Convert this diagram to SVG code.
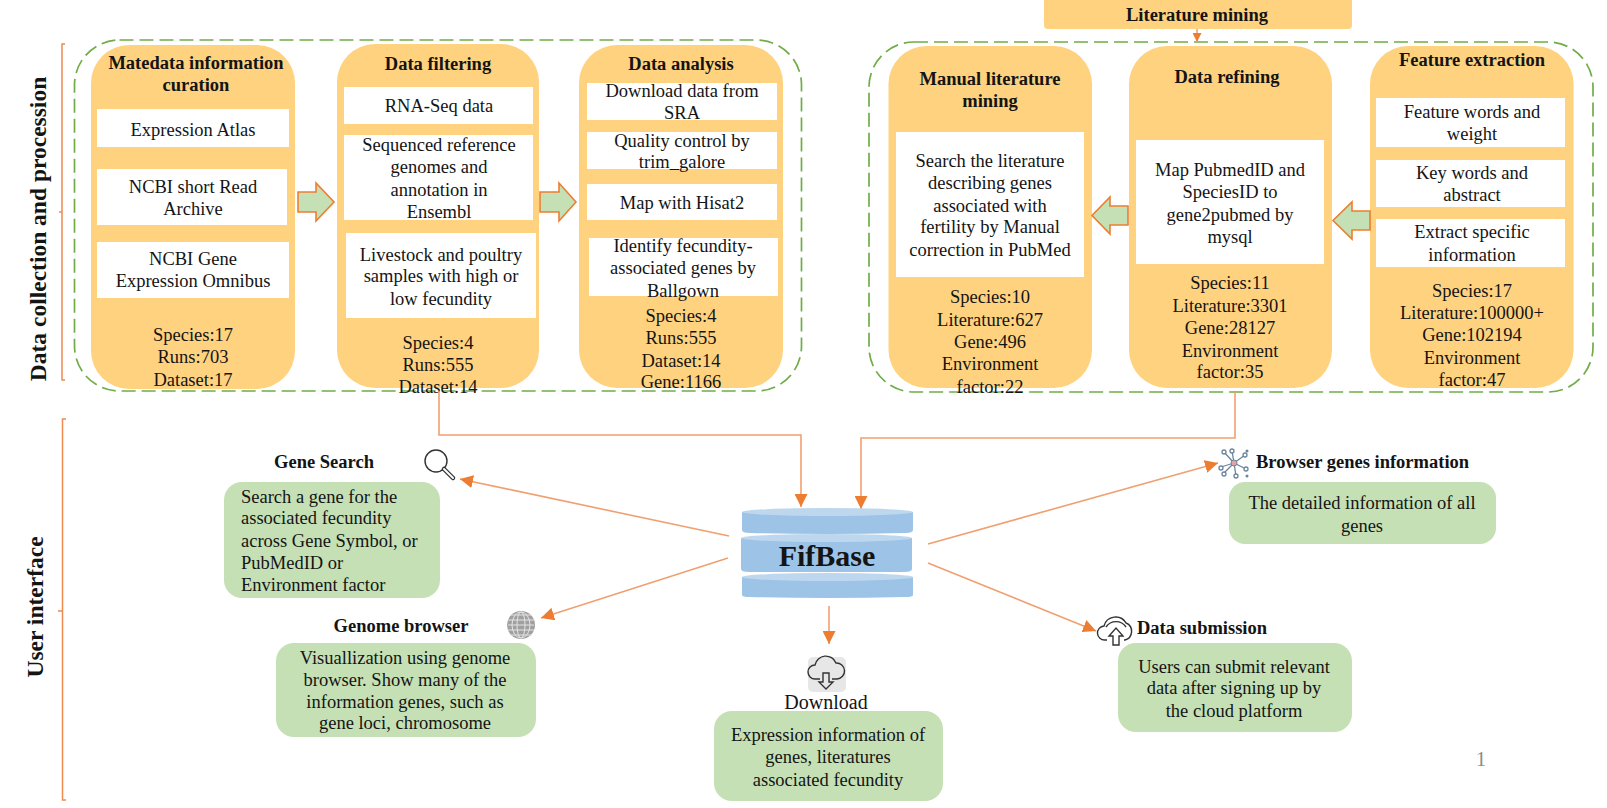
<svg xmlns="http://www.w3.org/2000/svg" width="1607" height="808" viewBox="0 0 1607 808">
<style>
text{font-family:"Liberation Serif","Times New Roman",serif;fill:#141414;font-size:18.5px}
.c{text-anchor:middle}
.b{font-weight:bold;font-size:18.5px}
.o{fill:#ffd27f}
.w{fill:#fff}
.g{fill:#c5e0b4}
.frame{fill:none;stroke:#70ad47;stroke-width:1.7;stroke-dasharray:14 6}
.br{fill:none;stroke:#ed8b50;stroke-width:1.5}
.ln{fill:none;stroke:#f0a070;stroke-width:1.6}
.ar{fill:#c5e0b4;stroke:#ed7d31;stroke-width:1.6}
.ic{fill:none;stroke:#333;stroke-width:1.4}
.net{fill:none;stroke:#6a84a0;stroke-width:1.3}
.side{font-weight:bold;font-size:23.500px;text-anchor:middle}
.disc{fill:#9dc3e6}
.top{fill:#bdd7ee}
</style>
<defs>
<marker id="tip" markerUnits="userSpaceOnUse" markerWidth="13" markerHeight="13" viewBox="0 0 13 13" refX="13" refY="6.5" orient="auto"><path d="M0 0L13 6.5L0 13z" fill="#ed7d31"/></marker>
<marker id="tipS" markerUnits="userSpaceOnUse" markerWidth="9" markerHeight="9" viewBox="0 0 9 9" refX="9" refY="4.5" orient="auto"><path d="M0 0L9 4.5L0 9z" fill="#ed7d31"/></marker>
</defs>
<rect width="1607" height="808" fill="#fff"/>

<g id="side-labels">
<path class="br" d="M65 44H62V380H65M62 212H59"/>
<path class="br" d="M66 419H62.500V800H66M62.500 611H58"/>
<text class="side" transform="translate(46 229) rotate(-90)">Data collection and procession</text>
<text class="side" transform="translate(43 607) rotate(-90)">User interface</text>
</g>

<g id="frames">
<rect class="frame" x="74.500" y="40" width="727" height="351" rx="45"/>
<rect class="frame" x="869" y="42" width="724" height="350" rx="45"/>
</g>

<g id="metadata-curation">
<rect class="o" x="91" y="45" width="204" height="344" rx="38"/>
<rect class="w" x="97" y="109" width="192" height="38"/>
<rect class="w" x="97" y="169" width="190" height="56"/>
<rect class="w" x="97" y="242" width="192" height="56"/>
<text class="c b" x="196" y="69">Matedata information</text>
<text class="c b" x="196" y="91">curation</text>
<text class="c" x="193" y="136">Expression Atlas</text>
<text class="c" x="193" y="193">NCBI short Read</text>
<text class="c" x="193" y="215">Archive</text>
<text class="c" x="193" y="265">NCBI Gene</text>
<text class="c" x="193" y="287">Expression Omnibus</text>
<text class="c" x="193" y="341">Species:17</text>
<text class="c" x="193" y="363">Runs:703</text>
<text class="c" x="193" y="386">Dataset:17</text>
</g>

<g id="data-filtering">
<rect class="o" x="337" y="44" width="202" height="344" rx="38"/>
<rect class="w" x="344" y="87" width="189" height="37"/>
<rect class="w" x="344" y="135" width="189" height="85"/>
<rect class="w" x="346" y="233" width="190" height="85"/>
<text class="c b" x="438" y="70">Data filtering</text>
<text class="c" x="439" y="112">RNA-Seq data</text>
<text class="c" x="439" y="151">Sequenced reference</text>
<text class="c" x="439" y="173">genomes and</text>
<text class="c" x="439" y="196">annotation in</text>
<text class="c" x="439" y="218">Ensembl</text>
<text class="c" x="441" y="261">Livestock and poultry</text>
<text class="c" x="441" y="282">samples with high or</text>
<text class="c" x="441" y="305">low fecundity</text>
<text class="c" x="438" y="349">Species:4</text>
<text class="c" x="438" y="371">Runs:555</text>
<text class="c" x="438" y="393">Dataset:14</text>
</g>

<g id="data-analysis">
<rect class="o" x="579" y="45" width="204" height="343" rx="38"/>
<rect class="w" x="587" y="83" width="190" height="37"/>
<rect class="w" x="587" y="132" width="190" height="37"/>
<rect class="w" x="587" y="184" width="190" height="36"/>
<rect class="w" x="589" y="238" width="189" height="58"/>
<text class="c b" x="681" y="70">Data analysis</text>
<text class="c" x="682" y="97">Download data from</text>
<text class="c" x="682" y="119">SRA</text>
<text class="c" x="682" y="147">Quality control by</text>
<text class="c" x="682" y="168">trim_galore</text>
<text class="c" x="682" y="209">Map with Hisat2</text>
<text class="c" x="683" y="252">Identify fecundity-</text>
<text class="c" x="683" y="274">associated genes by</text>
<text class="c" x="683" y="297">Ballgown</text>
<text class="c" x="681" y="322">Species:4</text>
<text class="c" x="681" y="344">Runs:555</text>
<text class="c" x="681" y="367">Dataset:14</text>
<text class="c" x="681" y="388">Gene:1166</text>
</g>

<g id="literature-mining">
<rect class="o" x="1044" y="-4" width="308" height="33" rx="4"/>
<text class="c b" x="1197" y="21">Literature mining</text>
</g>

<g id="manual-literature-mining">
<rect class="o" x="888.500" y="46" width="203.500" height="342" rx="38"/>
<rect class="w" x="896" y="132" width="188" height="145"/>
<text class="c b" x="990" y="85">Manual literature</text>
<text class="c b" x="990" y="107">mining</text>
<text class="c" x="990" y="167">Search the literature</text>
<text class="c" x="990" y="189">describing genes</text>
<text class="c" x="990" y="212">associated with</text>
<text class="c" x="990" y="233">fertility by Manual</text>
<text class="c" x="990" y="256">correction in PubMed</text>
<text class="c" x="990" y="303">Species:10</text>
<text class="c" x="990" y="326">Literature:627</text>
<text class="c" x="990" y="348">Gene:496</text>
<text class="c" x="990" y="370">Environment</text>
<text class="c" x="990" y="393">factor:22</text>
</g>

<g id="data-refining">
<rect class="o" x="1129" y="46" width="203" height="342" rx="38"/>
<rect class="w" x="1136" y="140" width="188" height="124"/>
<text class="c b" x="1227" y="83">Data refining</text>
<text class="c" x="1230" y="176">Map PubmedID and</text>
<text class="c" x="1230" y="198">SpeciesID to</text>
<text class="c" x="1230" y="221">gene2pubmed by</text>
<text class="c" x="1230" y="243">mysql</text>
<text class="c" x="1230" y="289">Species:11</text>
<text class="c" x="1230" y="312">Literature:3301</text>
<text class="c" x="1230" y="334">Gene:28127</text>
<text class="c" x="1230" y="357">Environment</text>
<text class="c" x="1230" y="378">factor:35</text>
</g>

<g id="feature-extraction">
<rect class="o" x="1370" y="46" width="203.500" height="342" rx="38"/>
<rect class="w" x="1376" y="98" width="189" height="49"/>
<rect class="w" x="1376" y="160" width="189" height="47"/>
<rect class="w" x="1376" y="219" width="189" height="48"/>
<text class="c b" x="1472" y="66">Feature extraction</text>
<text class="c" x="1472" y="118">Feature words and</text>
<text class="c" x="1472" y="140">weight</text>
<text class="c" x="1472" y="179">Key words and</text>
<text class="c" x="1472" y="201">abstract</text>
<text class="c" x="1472" y="238">Extract specific</text>
<text class="c" x="1472" y="261">information</text>
<text class="c" x="1472" y="297">Species:17</text>
<text class="c" x="1472" y="319">Literature:100000+</text>
<text class="c" x="1472" y="341">Gene:102194</text>
<text class="c" x="1472" y="364">Environment</text>
<text class="c" x="1472" y="386">factor:47</text>
</g>

<g id="block-arrows">
<path class="ar" d="M298 192H316V183L334 202L316 221V212H298z"/>
<path class="ar" d="M540 192H559V183L576 202L559 221V212H540z"/>
<path class="ar" d="M1128 206H1110V197L1092 215.500L1110 234V225H1128z"/>
<path class="ar" d="M1370 211H1352V202L1333 220.500L1352 239V230H1370z"/>
</g>

<g id="connectors">
<path class="ln" d="M439 391V435H801V507" marker-end="url(#tip)"/>
<path class="ln" d="M1235 392V438H861V509" marker-end="url(#tip)"/>
<path class="ln" d="M1197 29V42" marker-end="url(#tipS)"/>
<path class="ln" d="M729 536L460 479" marker-end="url(#tip)"/>
<path class="ln" d="M728 558L541 618" marker-end="url(#tip)"/>
<path class="ln" d="M829 606V644" marker-end="url(#tip)"/>
<path class="ln" d="M928 544L1218 463" marker-end="url(#tip)"/>
<path class="ln" d="M928 563L1096 631" marker-end="url(#tip)"/>
</g>

<g id="fifbase">
<path class="disc" d="M742 512H913V530Q913 533 905 533Q827.500 535 750 533Q742 533 742 530z"/>
<ellipse class="top" cx="827.500" cy="512" rx="85.500" ry="4"/>
<path class="disc" d="M741 538H912V569Q912 572 904 572H749Q741 572 741 569z"/>
<ellipse class="top" cx="826.500" cy="538" rx="85.500" ry="4"/>
<path class="disc" d="M742 577H913V595Q913 597 905 597Q827.500 599 750 597Q742 597 742 595z"/>
<ellipse class="top" cx="827.500" cy="577" rx="85.500" ry="4"/>
<text class="c" x="827" y="566" style="font-weight:bold;font-size:30px">FifBase</text>
</g>

<g id="gene-search">
<text class="c b" x="324" y="468">Gene Search</text>
<circle class="ic" cx="436" cy="461" r="11"/>
<path d="M444 469L453 478" fill="none" stroke="#333" stroke-width="4.500" stroke-linecap="round"/>
<path d="M444 469L453 478" fill="none" stroke="#fff" stroke-width="2" stroke-linecap="round"/>
<rect class="g" x="224" y="482" width="216" height="116" rx="18"/>
<text x="241" y="503">Search a gene for the</text>
<text x="241" y="524">associated fecundity</text>
<text x="241" y="547">across Gene Symbol, or</text>
<text x="241" y="569">PubMedID or</text>
<text x="241" y="591">Environment factor</text>
</g>

<g id="genome-browser">
<text class="c b" x="401" y="632">Genome browser</text>
<circle cx="521" cy="625" r="14" fill="#a0a0a0"/>
<g fill="none" stroke="#e4e4e4" stroke-width="1">
<ellipse cx="521" cy="625" rx="4" ry="13"/>
<ellipse cx="521" cy="625" rx="9" ry="13"/>
<path d="M508 620H534M508 625H534M508 630H534M510 615H532M510 635H532"/>
</g>
<rect class="g" x="276" y="643" width="260" height="94" rx="18"/>
<text class="c" x="405" y="664">Visuallization using genome</text>
<text class="c" x="405" y="686">browser. Show many of the</text>
<text class="c" x="405" y="708">information genes, such as</text>
<text class="c" x="405" y="729">gene loci, chromosome</text>
</g>

<g id="download">
<rect x="808" y="657" width="38" height="35" rx="5" fill="#e7e7e7"/>
<path class="ic" d="M820 679H815A7 7 0 0 1 815 665A11 11 0 0 1 836 663A8 8 0 0 1 837 679H832"/>
<path class="ic" d="M823 673V682H819L826 689L833 682H829V673z"/>
<text class="c" x="826" y="709" style="font-size:20px">Download</text>
<rect class="g" x="714" y="711" width="229" height="90" rx="18"/>
<text class="c" x="828" y="741">Expression information of</text>
<text class="c" x="828" y="763">genes, literatures</text>
<text class="c" x="828" y="786">associated fecundity</text>
</g>

<g id="browser-genes">
<path class="net" d="M1234 463L1224 452M1234 463L1232 451M1234 463L1245 455M1234 463L1246 469M1234 463L1224 473M1234 463L1236 476M1234 463L1221 467"/>
<g fill="#fff" stroke="#6a84a0" stroke-width="1.300">
<circle cx="1224" cy="452" r="2"/><circle cx="1232" cy="451" r="2"/><circle cx="1245" cy="455" r="2"/><circle cx="1246" cy="469" r="2"/><circle cx="1224" cy="474" r="2"/><circle cx="1236" cy="476" r="2"/><circle cx="1221" cy="468" r="2"/>
</g>
<circle cx="1247" cy="451" r="1.500" fill="#6a84a0"/><circle cx="1247" cy="476" r="1.500" fill="#6a84a0"/>
<circle cx="1234" cy="463" r="3" fill="#e8a0a0" stroke="#6a84a0"/>
<text class="b" x="1256" y="468">Browser genes information</text>
<rect class="g" x="1229" y="482" width="267" height="62" rx="16"/>
<text class="c" x="1362" y="509">The detailed information of all</text>
<text class="c" x="1362" y="532">genes</text>
</g>

<g id="data-submission">
<rect class="g" x="1118" y="643" width="234" height="89" rx="18"/>
<path class="ic" d="M1107 640H1105A7 7 0 0 1 1104 626A12 12 0 0 1 1126 623A9 9 0 0 1 1125 640H1124"/>
<path class="ic" d="M1106 627A12 12 0 0 1 1126 627"/>
<path class="ic" fill="#fff" d="M1113 645V636H1109L1116 628L1123 636H1119V645z"/>
<text class="b" x="1137" y="634">Data submission</text>
<text class="c" x="1234" y="673">Users can submit relevant</text>
<text class="c" x="1234" y="694">data after signing up by</text>
<text class="c" x="1234" y="717">the cloud platform</text>
</g>

<g id="page-number">
<text class="c" x="1481" y="766" style="font-size:20px;fill:#8a8a8a">1</text>
</g>
</svg>
